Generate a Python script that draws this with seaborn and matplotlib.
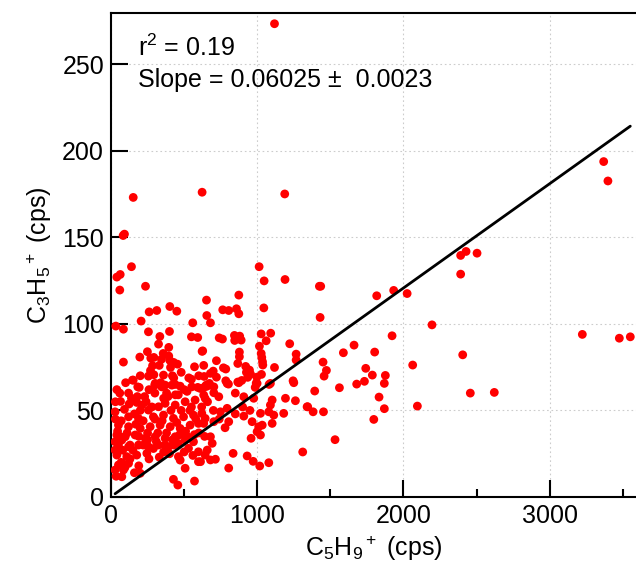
import matplotlib
matplotlib.use("Agg")
import matplotlib.pyplot as plt
import seaborn as sns
import numpy as np
import pandas as pd

# ---- data ----
c5h9 = [
    1118, 152, 623, 1188, 92, 83, 140, 63, 40, 236, 60, 1013, 1047, 1190, 874, 1425, 653,
    3369, 3398, 2391, 2428, 2503, 2391, 1434, 1817, 1933, 2025,
    1430, 2195, 3223, 3476, 3551, 1922, 1662, 1589, 1803, 2405, 1450, 2063, 1742, 1473,
    1457, 1787, 1876, 1733, 1680, 1869, 1393, 1562, 1833, 2457, 2621, 1345, 1382, 1453,
    1869, 2095, 1797, 1532, 1311,
    764, 805, 858, 874, 1045, 655, 680, 1027, 1092, 1061, 1222, 1015, 740, 762, 844, 880,
    846, 890, 1027, 1266, 627, 878, 878, 1031, 1266, 1036, 721, 867, 634, 921, 1038, 769,
    785, 1118, 947, 926, 699, 680, 954, 1029, 637, 721, 935, 997, 785, 894, 867, 993, 1245,
    673, 703, 803, 1081, 986, 641,
    402, 261, 313, 450, 206, 33, 85, 559, 256, 400, 334, 550, 593, 325, 395, 623, 249, 357,
    197, 85, 272, 293, 345, 395, 402, 429, 455, 284, 407, 571, 147, 256, 293, 359, 429, 532,
    183, 299, 370, 439, 593, 651,
    152, 193, 302, 347, 416, 473, 552, 610, 65, 124, 176, 28, 92, 211, 256, 325, 370, 439,
    507, 575, 644, 290, 359, 427, 496, 564, 621, 120, 188, 51, 120, 200, 268, 336, 405, 473,
    541, 598, 644, 40, 97, 165, 234, 302, 370, 439, 507, 564, 51, 120, 188, 256, 325, 393,
    461, 473, 530, 598, 644, 40, 108, 176, 245, 51, 120, 85, 74, 200, 28, 507, 427, 457, 571,
    598, 28, 28, 74,
    657, 794, 874, 999, 1090, 1250, 634, 703, 737, 908, 976, 1102, 1193, 1261, 1341, 794,
    748, 908, 1022, 1079, 1113, 1181, 1090, 634, 703, 805, 965, 1102, 1010, 1034, 999, 1022,
    680, 692, 958, 658, 835, 931, 972, 1017, 1079, 805, 680, 714, 612,
    140, 230, 300, 390, 460, 520, 30, 70, 160, 220, 280, 350, 410, 480, 550, 600, 640, 45,
    110, 170, 250, 320, 380, 450, 510, 570, 80, 150, 220, 290, 360, 430, 500, 560, 70, 130,
    190, 260, 330, 400, 460, 520, 35, 95, 160, 60, 200, 260, 340, 420, 480, 360, 300, 240,
    180, 120, 60, 30, 40, 100, 200, 270, 330, 380, 440, 500, 550, 600, 660, 700, 740, 780,
    850, 900, 850, 950, 620, 580, 540, 470, 420, 370, 310, 250, 190, 130,
]
c3h5 = [
    273.3, 173, 176, 175, 151.8, 151, 133, 128.5, 127, 121.7, 119.5, 133, 124.8, 125.6, 116.6, 121.7, 113.7,
    193.7, 182.5, 139.5, 141.8, 140.8, 128.7, 121.7, 116.2, 119.3, 117.5,
    103.7, 99.4, 93.9, 91.7, 92.5, 93.1, 87.7, 83.3, 83.7, 82.1, 77.9, 76.2, 74.3, 73.1,
    69.8, 70.4, 70.2, 66.8, 65.2, 65.6, 61.2, 63.1, 57.7, 60, 60.4, 52.1, 49.2, 49.2,
    51, 52.5, 44.8, 33.1, 26,
    108.1, 107.7, 108.7, 105.8, 109.2, 104.8, 100.6, 94.2, 94.6, 90.2, 88.5, 87.1, 91.9, 91.2, 93.3, 92.9,
    90.4, 90.6, 82.9, 82.5, 84.4, 83.7, 81, 80.6, 79.1, 78.1, 78.7, 77.1, 76, 75.4, 76.2, 74.6,
    73.9, 74.8, 73.3, 72, 72.7, 71.4, 71, 70.8, 69.6, 69.2, 69.1, 69.2, 67.1, 67.3, 66.4, 65.8, 67.1,
    65.6, 63.6, 65.2, 65, 63.3, 63.6,
    110, 106.9, 107.7, 107.3, 101.6, 98.7, 96.9, 100.6, 95.4, 95.6, 92.7, 92.5, 92.1, 88.3, 86.4, 84.1, 83.9, 82.9,
    80.8, 77.9, 80.2, 80.6, 79.5, 81.4, 78.9, 77.7, 76.7, 75.8, 74.8, 75.2, 67.5, 69.8, 70.6, 70.4, 68.8, 68.8,
    63.6, 64.6, 64.6, 65, 63.3, 64.6,
    67.5, 63.3, 65.6, 63.6, 64.6, 64, 63.6, 62.7, 55.2, 53.7, 54.6, 49.2, 50.6, 53.1, 50.2, 52.1, 54.1, 53.1,
    55, 56, 56.9, 46.3, 47.3, 45.4, 46.3, 47.3, 48.3, 46.3, 45.4, 41.5, 40.6, 39.6, 40.6, 41.5, 40.6, 39.6,
    41.5, 42.5, 45.4, 35.8, 34.8, 35.8, 33.9, 34.8, 33.9, 34.8, 32.9, 31.9, 30, 29, 30, 29, 30, 29,
    23.3, 21.3, 28.1, 26.1, 24.2, 24.2, 23.3, 24.2, 25.2, 18.5, 19.4, 15.6, 11.7, 13.7, 15.6, 16.6, 10.2, 6.9, 9.2,
    20.4, 27.1, 31.9, 32.9,
    64, 65.6, 66, 65.6, 65.6, 66, 58.9, 60.2, 57.9, 57.9, 57, 56, 57, 55.6, 52.1, 51.2,
    49.2, 46.7, 48.3, 49.2, 47.3, 48.3, 53.1, 42.5, 43.5, 43.5, 43.5, 42.5, 40.6, 41.5, 37.7, 35.8,
    34.8, 31, 33.9, 27.1, 25.2, 23.7, 20.6, 17.9, 19.8, 16.7, 21.4, 21.8, 20.4,
    57, 58, 60, 58, 59, 61, 45, 44, 48, 44, 52, 44, 50, 50, 52, 37, 35, 38,
    37, 42, 37, 37, 37, 43, 38, 36, 27, 27, 30, 28, 26, 30, 26, 24, 20, 22,
    18, 22, 23, 25, 31, 35, 12, 17, 14, 35, 50, 62, 66, 70, 72, 57, 45, 55,
    58, 60, 60, 55, 62, 66, 70, 73, 76, 60, 59, 62, 68, 70, 55, 50, 45, 40,
    48, 52, 60, 50, 52, 45, 50, 36, 33, 30, 32, 33, 35, 30,
]
slope = 0.06025
intercept = 0.2
r2_text = "r$^2$ = 0.19"
slope_text = "Slope = 0.06025 \u00b1  0.0023"
x_ticks = [0, 1000, 2000, 3000]
y_ticks = [0, 50, 100, 150, 200, 250]

df = pd.DataFrame({"x": c5h9, "y": c3h5})

sns.set_theme(style="white")
plt.rcParams["font.family"] = ["Liberation Sans", "DejaVu Sans"]
plt.rcParams["mathtext.fontset"] = "custom"
plt.rcParams["mathtext.rm"] = "Liberation Sans"
plt.rcParams["mathtext.it"] = "Liberation Sans"
for key in ["text.color", "axes.labelcolor", "xtick.color", "ytick.color"]:
    plt.rcParams[key] = "black"

fig = plt.figure(figsize=(6.36, 5.83), dpi=100)
ax = fig.add_axes([111 / 636, 86 / 583, 525 / 636, 484 / 583])

ax.grid(True, color="#cccccc", linestyle=(0, (1.5, 2.5)), linewidth=0.8)
ax.set_axisbelow(True)

sns.scatterplot(data=df, x="x", y="y", ax=ax, color="#ff0000", s=40,
                edgecolor="none", linewidth=0, zorder=3)

xl = np.array([min(c5h9), max(c5h9)])
sns.lineplot(x=xl, y=slope * xl + intercept, ax=ax, color="black", linewidth=2.0, zorder=4)

ax.set_xlim(0, 3590)
ax.set_ylim(0, 279.5)
ax.set_xticks(x_ticks)
ax.set_xticks([500, 1500, 2500, 3500], minor=True)
ax.set_yticks(y_ticks)
ax.tick_params(axis="both", which="major", direction="in", length=12, width=1.5,
               labelsize=18, color="black", labelcolor="black", pad=5)
ax.tick_params(axis="x", which="minor", direction="in", length=6, width=1.5, color="black")
ax.tick_params(axis="x", which="both", bottom=True)
ax.tick_params(axis="y", which="both", left=True)

for side in ["left", "bottom", "top"]:
    ax.spines[side].set_visible(True)
    ax.spines[side].set_color("black")
    ax.spines[side].set_linewidth(1.5)
ax.spines["right"].set_visible(False)

ax.set_xlabel("C$_5$H$_9$$^+$ (cps)", fontsize=18, labelpad=4, color="black")
ax.set_ylabel("C$_3$H$_5$$^+$ (cps)", fontsize=18, labelpad=6, color="black")

ax.text(0.051, 0.928, r2_text, transform=ax.transAxes, fontsize=18, va="center", ha="left", color="black")
ax.text(0.051, 0.862, slope_text, transform=ax.transAxes, fontsize=18, va="center", ha="left", color="black")

fig.savefig("out.png", dpi=100)
